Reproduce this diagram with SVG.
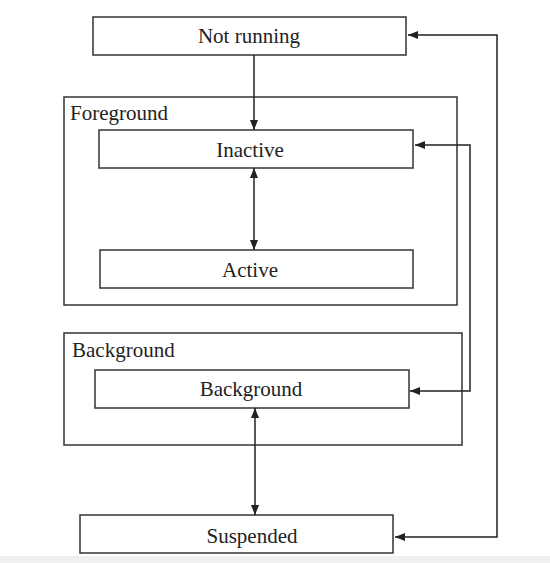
<svg xmlns="http://www.w3.org/2000/svg" width="550" height="563" viewBox="0 0 550 563">
<style>
.box{fill:#fff;stroke:#333;stroke-width:1.5}
.cont{fill:none;stroke:#333;stroke-width:1.5}
.lbl{font-family:"Liberation Serif","Times New Roman",serif;font-size:21px;fill:#222}
.c{text-anchor:middle}
.ln{fill:none;stroke:#222;stroke-width:1.5}
</style>
<defs>
<marker id="ah" viewBox="0 0 10 8" refX="10" refY="4" markerWidth="10" markerHeight="8" markerUnits="userSpaceOnUse" orient="auto-start-reverse">
<path d="M0,0 L10,4 L0,8 Z" fill="#222"/>
</marker>
</defs>
<rect x="0" y="0" width="550" height="563" fill="#fff"/>
<rect x="0" y="556" width="550" height="7" fill="#f0f0f0"/>
<g id="foreground-group">
<rect class="cont" x="64" y="97" width="393" height="208"/>
<text class="lbl" x="70" y="120">Foreground</text>
</g>
<g id="background-group">
<rect class="cont" x="64" y="333" width="398" height="112"/>
<text class="lbl" x="72" y="357">Background</text>
</g>
<g id="not-running">
<rect class="box" x="93" y="17" width="313" height="38"/>
<text class="lbl c" x="249" y="43">Not running</text>
</g>
<g id="inactive">
<rect class="box" x="99" y="130" width="314" height="38"/>
<text class="lbl c" x="250" y="157">Inactive</text>
</g>
<g id="active">
<rect class="box" x="100" y="250" width="313" height="38"/>
<text class="lbl c" x="250" y="277">Active</text>
</g>
<g id="background">
<rect class="box" x="95" y="370" width="314" height="38"/>
<text class="lbl c" x="251" y="396">Background</text>
</g>
<g id="suspended">
<rect class="box" x="80" y="515" width="313" height="38"/>
<text class="lbl c" x="252" y="543">Suspended</text>
</g>
<g id="connectors">
<path class="ln" d="M254,55 V130" marker-end="url(#ah)"/>
<path class="ln" d="M254,168 V250" marker-start="url(#ah)" marker-end="url(#ah)"/>
<path class="ln" d="M255,408 V515" marker-start="url(#ah)" marker-end="url(#ah)"/>
<path class="ln" d="M408,35 H497 V537 H395" marker-start="url(#ah)" marker-end="url(#ah)"/>
<path class="ln" d="M415,145 H470 V391 H410" marker-start="url(#ah)" marker-end="url(#ah)"/>
</g>
</svg>
